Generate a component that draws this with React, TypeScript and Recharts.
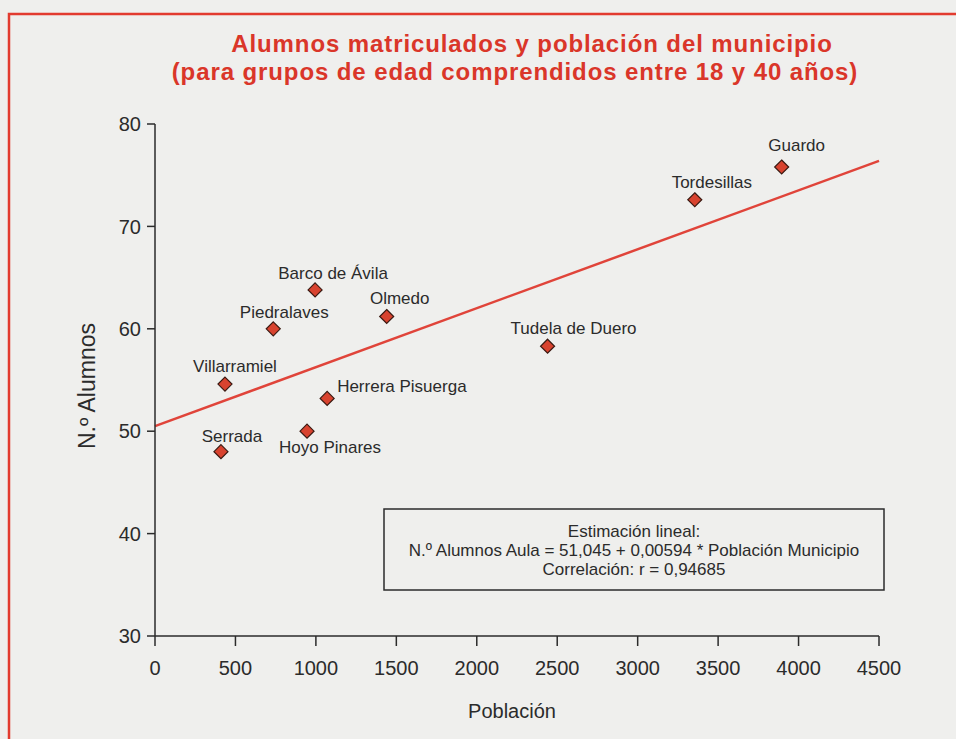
import React from "react";
import { ScatterChart, Scatter, XAxis, YAxis, ReferenceLine } from "recharts";

const municipios = [
  "Serrada",
  "Hoyo Pinares",
  "Villarramiel",
  "Herrera Pisuerga",
  "Piedralaves",
  "Barco de Ávila",
  "Olmedo",
  "Tudela de Duero",
  "Tordesillas",
  "Guardo",
];
const poblacion = [410, 945, 435, 1070, 735, 995, 1440, 2440, 3355, 3895];
const alumnos = [48, 50, 54.6, 53.2, 60, 63.8, 61.2, 58.3, 72.6, 75.8];

const xTicks = [0, 500, 1000, 1500, 2000, 2500, 3000, 3500, 4000, 4500];
const yTicks = [30, 40, 50, 60, 70, 80];

// regression line as drawn in the figure
const lineStart = { x: 0, y: 50.5 };
const lineEnd = { x: 4500, y: 76.4 };

const data = municipios.map((name, i) => ({ name, x: poblacion[i], y: alumnos[i] }));

// label placement relative to each diamond: [dx, dy, anchor]
const labelPos: Record<string, [number, number, "middle" | "start"]> = {
  Serrada: [11, -10, "middle"],
  "Hoyo Pinares": [23, 22, "middle"],
  Villarramiel: [10, -12, "middle"],
  "Herrera Pisuerga": [10, -6, "start"],
  Piedralaves: [11, -11, "middle"],
  "Barco de Ávila": [18, -11, "middle"],
  Olmedo: [13, -13, "middle"],
  "Tudela de Duero": [26, -12, "middle"],
  Tordesillas: [17, -12, "middle"],
  Guardo: [15, -16, "middle"],
};

const RED = "#da3629";
const INK = "#2b2b2b";
const FONT = "'Liberation Sans', Arial, Helvetica, sans-serif";

function Diamond(props: any) {
  const { cx, cy, payload } = props;
  if (cx == null || cy == null) return null;
  const r = 7;
  const [dx, dy, anchor] = labelPos[payload.name] ?? [0, -12, "middle"];
  return (
    <g>
      <polygon
        points={`${cx},${cy - r} ${cx + r},${cy} ${cx},${cy + r} ${cx - r},${cy}`}
        fill="#d8432f"
        stroke="#3a1a12"
        strokeWidth={1.2}
      />
      <text x={cx + dx} y={cy + dy} textAnchor={anchor} fontSize={17} fill={INK} fontFamily={FONT}>
        {payload.name}
      </text>
    </g>
  );
}

export default function App() {
  return (
    <div
      style={{
        position: "absolute",
        left: 0,
        top: 0,
        width: 956,
        height: 739,
        background: "#efefed",
        overflow: "hidden",
        fontFamily: FONT,
      }}
    >
      <ScatterChart width={956} height={739} margin={{ top: 124, right: 77, bottom: 53, left: 95 }}>
        <XAxis
          type="number"
          dataKey="x"
          domain={[0, 4500]}
          ticks={xTicks}
          interval={0}
          height={50}
          stroke={INK}
          strokeWidth={1.5}
          tickSize={10}
          tickMargin={15}
          tick={{ fill: INK, fontSize: 20, fontFamily: FONT }}
        />
        <YAxis
          type="number"
          dataKey="y"
          domain={[30, 80]}
          ticks={yTicks}
          interval={0}
          width={60}
          stroke={INK}
          strokeWidth={1.5}
          tickSize={8}
          tickMargin={6}
          tick={{ fill: INK, fontSize: 20, fontFamily: FONT }}
        />
        <ReferenceLine
          segment={[lineStart, lineEnd]}
          stroke="#e0443a"
          strokeWidth={2.5}
          ifOverflow="visible"
        />
        <Scatter data={data} shape={Diamond} isAnimationActive={false} />
      </ScatterChart>

      <svg
        width={956}
        height={739}
        style={{ position: "absolute", left: 0, top: 0, pointerEvents: "none" }}
      >
        <polyline points="9,760 9,14 956,14" fill="none" stroke="#e23b2f" strokeWidth={2.5} />
        <text
          x={532}
          y={52}
          textAnchor="middle"
          fontSize={24}
          letterSpacing={0.9}
          fontWeight="bold"
          fill={RED}
          fontFamily={FONT}
        >
          Alumnos matriculados y población del municipio
        </text>
        <text
          x={515}
          y={80}
          textAnchor="middle"
          fontSize={24}
          letterSpacing={0.9}
          fontWeight="bold"
          fill={RED}
          fontFamily={FONT}
        >
          (para grupos de edad comprendidos entre 18 y 40 años)
        </text>
        <text
          transform="translate(95,386) rotate(-90)"
          textAnchor="middle"
          fontSize={23}
          fill={INK}
          fontFamily={FONT}
        >
          N.º Alumnos
        </text>
        <text x={512} y={718} textAnchor="middle" fontSize={20} fill={INK} fontFamily={FONT}>
          Población
        </text>
        <rect x={384} y={509} width={500} height={81} fill="none" stroke={INK} strokeWidth={1.5} />
        <text x={634} y={537} textAnchor="middle" fontSize={17} fill={INK} fontFamily={FONT}>
          Estimación lineal:
        </text>
        <text x={634} y={556} textAnchor="middle" fontSize={17} fill={INK} fontFamily={FONT}>
          N.º Alumnos Aula = 51,045 + 0,00594 * Población Municipio
        </text>
        <text x={634} y={575} textAnchor="middle" fontSize={17} fill={INK} fontFamily={FONT}>
          Correlación:  r = 0,94685
        </text>
      </svg>
    </div>
  );
}
